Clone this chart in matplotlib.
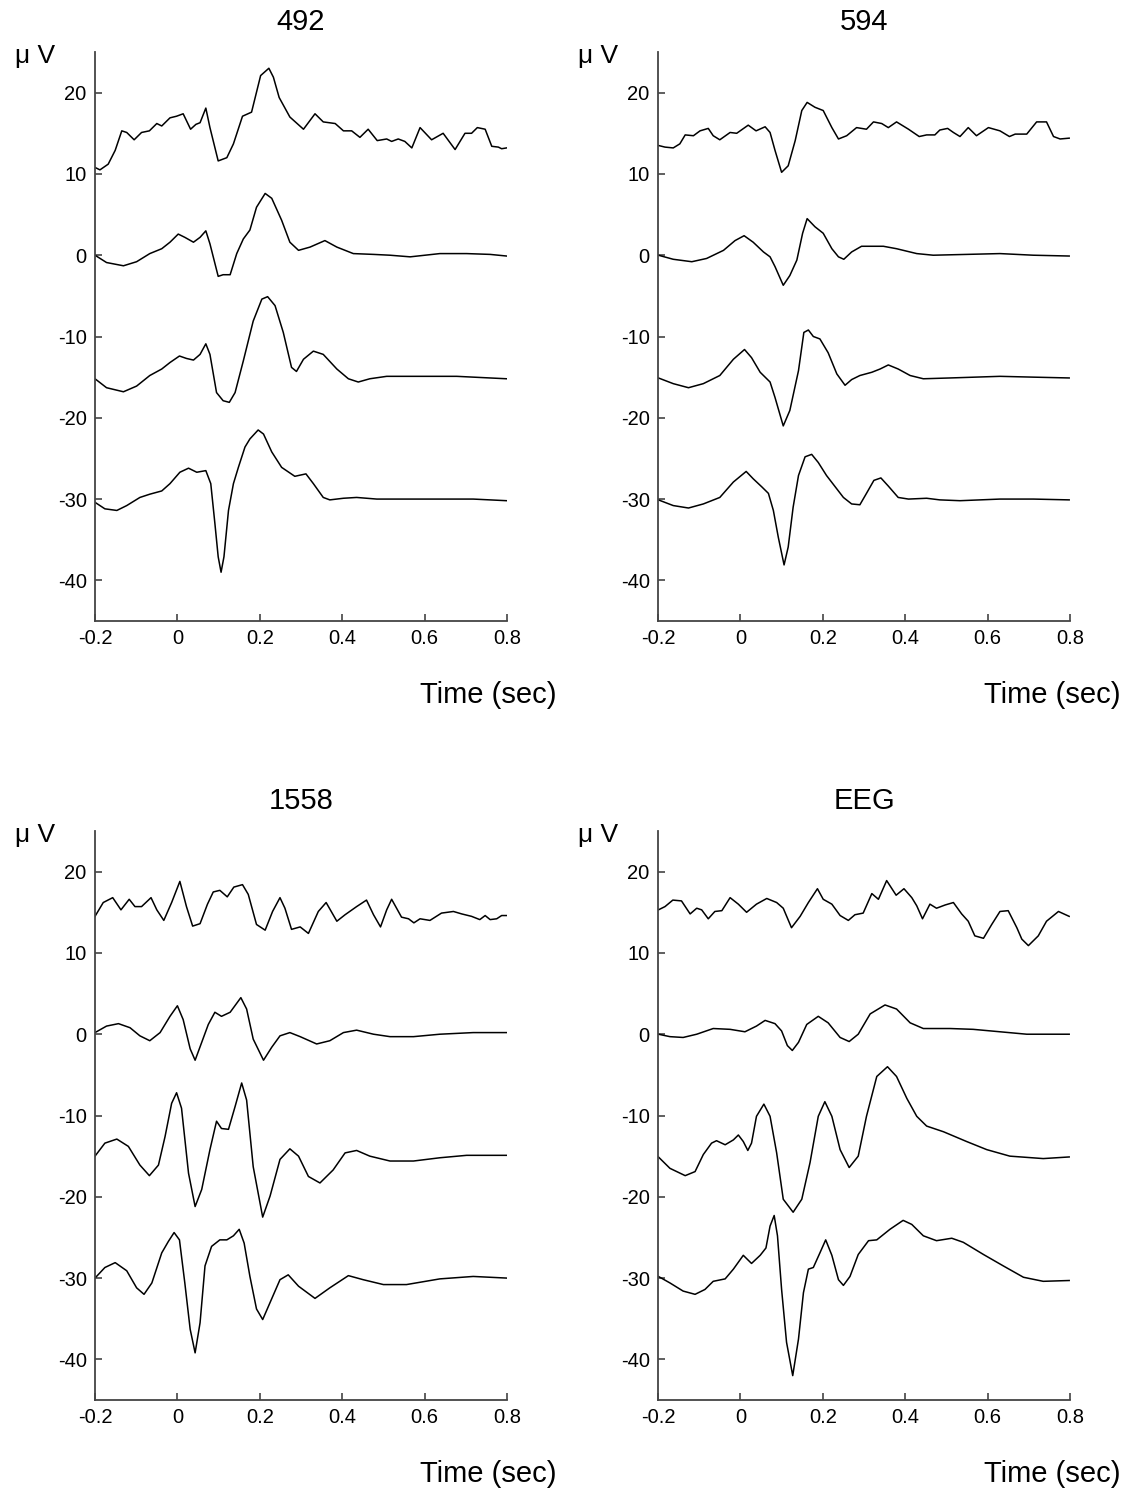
import matplotlib
matplotlib.use("Agg")
import matplotlib.pyplot as plt

plt.rcParams['font.family'] = ['Liberation Sans', 'DejaVu Sans']
plt.rcParams['axes.unicode_minus'] = False

# ---------------- panel 492 ----------------
t492_a = [-0.200, -0.188, -0.168, -0.151, -0.135, -0.123, -0.105, -0.087, -0.068, -0.050, -0.038, -0.018,
          -0.002, 0.014, 0.032, 0.045, 0.055, 0.069, 0.079, 0.099, 0.120, 0.136, 0.158, 0.180, 0.202,
          0.222, 0.233, 0.247, 0.273, 0.306, 0.334, 0.354, 0.383, 0.403, 0.423, 0.443, 0.463, 0.485,
          0.508, 0.520, 0.536, 0.552, 0.569, 0.589, 0.617, 0.645, 0.674, 0.698, 0.714, 0.728, 0.747,
          0.763, 0.779, 0.787, 0.799]
v492_a = [10.8, 10.5, 11.2, 12.9, 15.3, 15.1, 14.2, 15.1, 15.3, 16.2, 15.9, 16.9,
          17.1, 17.4, 15.5, 16.1, 16.3, 18.1, 15.7, 11.6, 12.0, 13.7, 17.1, 17.6, 22.1,
          23.0, 21.9, 19.4, 17.0, 15.5, 17.4, 16.4, 16.2, 15.3, 15.3, 14.5, 15.5, 14.1,
          14.3, 14.0, 14.3, 14.0, 13.2, 15.7, 14.2, 15.0, 13.0, 15.0, 15.0, 15.7, 15.5,
          13.4, 13.3, 13.1, 13.2]

t492_b = [-0.200, -0.172, -0.131, -0.099, -0.067, -0.038, -0.018, 0.002, 0.018, 0.039, 0.055, 0.069,
          0.079, 0.099, 0.111, 0.128, 0.144, 0.160, 0.176, 0.192, 0.213, 0.229, 0.253, 0.273, 0.294,
          0.322, 0.358, 0.387, 0.427, 0.476, 0.516, 0.565, 0.637, 0.702, 0.759, 0.799]
v492_b = [0.0, -0.9, -1.3, -0.8, 0.2, 0.8, 1.6, 2.6, 2.2, 1.6, 2.2, 3.0,
          1.4, -2.6, -2.4, -2.4, 0.2, 2.0, 3.1, 5.9, 7.6, 7.0, 4.3, 1.6, 0.6,
          1.0, 1.8, 1.0, 0.2, 0.1, 0.0, -0.2, 0.2, 0.2, 0.1, -0.1]

t492_c = [-0.200, -0.172, -0.131, -0.099, -0.067, -0.038, -0.018, 0.005, 0.022, 0.039, 0.055, 0.069,
          0.079, 0.095, 0.111, 0.126, 0.140, 0.160, 0.184, 0.205, 0.219, 0.237, 0.257, 0.277, 0.289,
          0.306, 0.330, 0.354, 0.387, 0.415, 0.439, 0.467, 0.508, 0.597, 0.678, 0.799]
v492_c = [-15.2, -16.3, -16.8, -16.1, -14.8, -14.0, -13.2, -12.4, -12.7, -12.9, -12.2, -10.9,
          -12.2, -16.9, -17.9, -18.1, -16.9, -13.0, -8.1, -5.4, -5.1, -6.2, -9.5, -13.8, -14.3,
          -12.8, -11.8, -12.2, -14.0, -15.2, -15.6, -15.2, -14.9, -14.9, -14.9, -15.2]

t492_d = [-0.200, -0.176, -0.147, -0.123, -0.091, -0.067, -0.038, -0.018, 0.006, 0.027, 0.047, 0.069,
          0.081, 0.091, 0.099, 0.106, 0.113, 0.124, 0.136, 0.148, 0.164, 0.176, 0.196, 0.209, 0.229,
          0.253, 0.285, 0.312, 0.330, 0.354, 0.370, 0.403, 0.435, 0.484, 0.597, 0.718, 0.799]
v492_d = [-30.4, -31.2, -31.4, -30.8, -29.8, -29.4, -29.0, -28.1, -26.7, -26.2, -26.7, -26.5,
          -28.1, -33.0, -37.1, -39.0, -37.1, -31.4, -28.1, -26.1, -23.6, -22.6, -21.5, -22.0, -24.2,
          -26.1, -27.2, -26.9, -28.1, -29.8, -30.1, -29.9, -29.8, -30.0, -30.0, -30.0, -30.2]

# ---------------- panel 594 ----------------
t594_a = [-0.199, -0.183, -0.163, -0.147, -0.134, -0.114, -0.098, -0.078, -0.066, -0.050, -0.025, -0.009,
          0.019, 0.038, 0.060, 0.072, 0.084, 0.100, 0.116, 0.133, 0.149, 0.162, 0.181, 0.201, 0.222,
          0.238, 0.258, 0.282, 0.306, 0.323, 0.343, 0.359, 0.379, 0.408, 0.434, 0.452, 0.472, 0.484,
          0.503, 0.517, 0.533, 0.553, 0.573, 0.602, 0.630, 0.653, 0.667, 0.695, 0.719, 0.743, 0.760,
          0.776, 0.798]
v594_a = [13.5, 13.3, 13.2, 13.7, 14.8, 14.7, 15.3, 15.6, 14.7, 14.2, 15.1, 15.0,
          16.0, 15.3, 15.8, 15.1, 12.9, 10.2, 11.0, 14.1, 17.8, 18.8, 18.2, 17.8, 15.7,
          14.3, 14.7, 15.7, 15.5, 16.4, 16.2, 15.7, 16.4, 15.5, 14.6, 14.8, 14.8, 15.4,
          15.6, 15.1, 14.6, 15.7, 14.7, 15.7, 15.3, 14.6, 14.9, 14.9, 16.4, 16.4, 14.6,
          14.3, 14.4]

t594_b = [-0.199, -0.163, -0.118, -0.082, -0.041, -0.013, 0.009, 0.031, 0.056, 0.072, 0.084, 0.104,
          0.120, 0.137, 0.151, 0.162, 0.181, 0.201, 0.222, 0.238, 0.251, 0.270, 0.294, 0.347, 0.379,
          0.428, 0.468, 0.549, 0.630, 0.711, 0.798]
v594_b = [0.0, -0.5, -0.8, -0.4, 0.6, 1.8, 2.4, 1.6, 0.4, -0.2, -1.4, -3.7,
          -2.5, -0.6, 2.7, 4.5, 3.5, 2.7, 0.8, -0.2, -0.5, 0.4, 1.1, 1.1, 0.8,
          0.2, 0.0, 0.1, 0.2, 0.0, -0.1]

t594_c = [-0.199, -0.163, -0.126, -0.090, -0.050, -0.017, 0.010, 0.027, 0.048, 0.072, 0.084, 0.104,
          0.120, 0.141, 0.154, 0.165, 0.177, 0.193, 0.213, 0.234, 0.254, 0.270, 0.290, 0.319, 0.339,
          0.359, 0.383, 0.412, 0.444, 0.509, 0.630, 0.711, 0.798]
v594_c = [-15.1, -15.8, -16.3, -15.8, -14.8, -12.8, -11.6, -12.6, -14.4, -15.6, -17.5, -21.0,
          -19.1, -14.2, -9.5, -9.2, -10.0, -10.3, -12.0, -14.6, -16.0, -15.3, -14.8, -14.4, -14.0,
          -13.5, -14.0, -14.8, -15.2, -15.1, -14.9, -15.0, -15.1]

t594_d = [-0.199, -0.163, -0.126, -0.090, -0.050, -0.017, 0.014, 0.031, 0.052, 0.068, 0.080, 0.092,
          0.106, 0.116, 0.128, 0.141, 0.157, 0.173, 0.189, 0.209, 0.250, 0.270, 0.290, 0.306, 0.324,
          0.341, 0.359, 0.383, 0.408, 0.452, 0.484, 0.533, 0.630, 0.711, 0.798]
v594_d = [-30.1, -30.8, -31.1, -30.6, -29.8, -27.9, -26.6, -27.5, -28.5, -29.3, -31.4, -34.7,
          -38.1, -35.9, -31.0, -27.1, -24.8, -24.5, -25.5, -27.1, -29.8, -30.6, -30.7, -29.3, -27.7,
          -27.4, -28.4, -29.8, -30.0, -29.9, -30.1, -30.2, -30.0, -30.0, -30.1]

# ---------------- panel 1558 ----------------
t1558_a = [-0.200, -0.180, -0.157, -0.137, -0.117, -0.103, -0.087, -0.064, -0.050, -0.033, -0.014, 0.006,
           0.022, 0.037, 0.055, 0.073, 0.087, 0.103, 0.121, 0.137, 0.158, 0.172, 0.192, 0.213, 0.231,
           0.249, 0.261, 0.277, 0.298, 0.318, 0.342, 0.361, 0.387, 0.407, 0.435, 0.459, 0.476, 0.493,
           0.508, 0.520, 0.544, 0.561, 0.574, 0.589, 0.613, 0.641, 0.670, 0.690, 0.714, 0.734, 0.747,
           0.759, 0.775, 0.787, 0.799]
v1558_a = [14.5, 16.2, 16.8, 15.3, 16.6, 15.7, 15.7, 16.8, 15.3, 14.0, 16.2, 18.8,
           15.7, 13.3, 13.6, 16.0, 17.5, 17.7, 16.9, 18.1, 18.4, 17.2, 13.5, 12.8, 15.1,
           16.8, 15.5, 12.9, 13.2, 12.4, 15.1, 16.2, 13.9, 14.7, 15.7, 16.5, 14.7, 13.2,
           15.3, 16.6, 14.4, 14.2, 13.7, 14.2, 14.0, 14.9, 15.1, 14.8, 14.5, 14.1, 14.6,
           14.1, 14.2, 14.6, 14.6]

t1558_b = [-0.200, -0.172, -0.143, -0.115, -0.091, -0.067, -0.042, -0.018, 0.000, 0.014, 0.031, 0.043,
           0.059, 0.075, 0.091, 0.107, 0.128, 0.154, 0.168, 0.184, 0.209, 0.229, 0.249, 0.273, 0.298,
           0.338, 0.370, 0.403, 0.435, 0.476, 0.516, 0.573, 0.637, 0.718, 0.799]
v1558_b = [0.2, 1.0, 1.3, 0.8, -0.2, -0.8, 0.2, 2.2, 3.5, 1.8, -1.8, -3.2,
           -1.0, 1.2, 2.7, 2.2, 2.7, 4.5, 3.1, -0.6, -3.2, -1.6, -0.2, 0.2, -0.3,
           -1.2, -0.8, 0.2, 0.5, 0.0, -0.3, -0.3, 0.0, 0.2, 0.2]

t1558_c = [-0.200, -0.176, -0.147, -0.119, -0.091, -0.068, -0.046, -0.030, -0.014, -0.002, 0.010, 0.027,
           0.043, 0.059, 0.079, 0.095, 0.107, 0.124, 0.140, 0.156, 0.168, 0.184, 0.207, 0.225, 0.249,
           0.273, 0.294, 0.318, 0.346, 0.378, 0.407, 0.435, 0.467, 0.516, 0.573, 0.637, 0.702, 0.799]
v1558_c = [-15.0, -13.4, -12.9, -13.8, -16.1, -17.4, -16.1, -12.6, -8.5, -7.2, -9.1, -17.1,
           -21.2, -19.1, -14.2, -10.7, -11.6, -11.7, -8.9, -6.0, -8.1, -16.3, -22.5, -19.9, -15.4,
           -14.1, -15.0, -17.5, -18.3, -16.7, -14.6, -14.3, -15.0, -15.6, -15.6, -15.2, -14.9, -14.9]

t1558_d = [-0.200, -0.176, -0.151, -0.123, -0.099, -0.081, -0.062, -0.038, -0.022, -0.008, 0.005, 0.018,
           0.031, 0.043, 0.055, 0.067, 0.083, 0.103, 0.120, 0.136, 0.150, 0.162, 0.176, 0.192, 0.207,
           0.225, 0.249, 0.269, 0.294, 0.334, 0.370, 0.415, 0.451, 0.500, 0.556, 0.637, 0.718, 0.799]
v1558_d = [-30.0, -28.7, -28.1, -29.1, -31.2, -32.0, -30.6, -26.9, -25.5, -24.4, -25.3, -30.6,
           -36.3, -39.2, -35.5, -28.5, -26.1, -25.3, -25.3, -24.8, -24.0, -25.7, -29.8, -33.8, -35.1,
           -33.0, -30.2, -29.6, -31.0, -32.5, -31.2, -29.7, -30.2, -30.8, -30.8, -30.1, -29.8, -30.0]

# ---------------- panel EEG ----------------
teeg_a = [-0.199, -0.183, -0.164, -0.143, -0.122, -0.106, -0.094, -0.078, -0.062, -0.045, -0.025, -0.005,
          0.015, 0.039, 0.064, 0.088, 0.104, 0.124, 0.145, 0.165, 0.187, 0.201, 0.222, 0.242, 0.262,
          0.278, 0.298, 0.319, 0.335, 0.355, 0.378, 0.397, 0.416, 0.428, 0.442, 0.460, 0.476, 0.497,
          0.517, 0.537, 0.553, 0.569, 0.590, 0.610, 0.630, 0.650, 0.671, 0.683, 0.699, 0.723, 0.743,
          0.772, 0.798]
veeg_a = [15.3, 15.7, 16.5, 16.4, 14.8, 15.5, 15.3, 14.2, 15.1, 15.2, 16.8, 16.0,
          15.0, 16.0, 16.7, 16.2, 15.5, 13.1, 14.5, 16.2, 17.9, 16.6, 16.0, 14.6, 14.0,
          14.7, 14.9, 17.3, 16.6, 18.9, 17.1, 17.9, 16.8, 15.8, 14.2, 16.0, 15.5, 15.9,
          16.2, 14.8, 13.9, 12.1, 11.8, 13.5, 15.1, 15.2, 13.1, 11.7, 10.9, 12.1, 13.9,
          15.1, 14.5]

teeg_b = [-0.199, -0.171, -0.139, -0.106, -0.066, -0.025, 0.011, 0.039, 0.060, 0.084, 0.100, 0.114,
          0.126, 0.141, 0.161, 0.189, 0.213, 0.242, 0.264, 0.286, 0.315, 0.351, 0.379, 0.412, 0.444,
          0.509, 0.565, 0.630, 0.695, 0.798]
veeg_b = [0.0, -0.3, -0.4, 0.0, 0.7, 0.6, 0.3, 1.0, 1.7, 1.3, 0.4, -1.4,
          -2.0, -1.0, 1.2, 2.2, 1.4, -0.4, -0.9, 0.0, 2.5, 3.6, 3.1, 1.4, 0.7,
          0.7, 0.6, 0.3, 0.0, 0.0]

teeg_c = [-0.199, -0.171, -0.134, -0.110, -0.090, -0.070, -0.058, -0.037, -0.017, -0.005, 0.007, 0.018,
          0.027, 0.039, 0.057, 0.072, 0.088, 0.104, 0.128, 0.149, 0.169, 0.189, 0.205, 0.222, 0.242,
          0.264, 0.286, 0.306, 0.331, 0.357, 0.379, 0.404, 0.428, 0.452, 0.493, 0.549, 0.598, 0.654,
          0.735, 0.798]
veeg_c = [-15.1, -16.5, -17.4, -16.9, -14.8, -13.4, -13.1, -13.6, -13.0, -12.4, -13.2, -14.3,
          -13.4, -10.1, -8.6, -10.1, -14.6, -20.3, -21.9, -20.3, -15.8, -10.1, -8.3, -10.1, -14.2,
          -16.4, -15.0, -10.1, -5.2, -4.0, -5.2, -7.9, -10.1, -11.3, -12.0, -13.2, -14.2, -15.0,
          -15.3, -15.1]

teeg_d = [-0.199, -0.171, -0.139, -0.110, -0.086, -0.066, -0.037, -0.017, 0.007, 0.027, 0.048, 0.062,
          0.072, 0.082, 0.090, 0.100, 0.112, 0.127, 0.141, 0.153, 0.165, 0.177, 0.193, 0.207, 0.222,
          0.238, 0.250, 0.266, 0.286, 0.311, 0.331, 0.363, 0.395, 0.416, 0.444, 0.476, 0.513, 0.541,
          0.590, 0.638, 0.687, 0.735, 0.798]
veeg_d = [-29.8, -30.6, -31.6, -32.0, -31.4, -30.4, -30.1, -28.9, -27.2, -28.2, -27.2, -26.3,
          -23.6, -22.3, -24.8, -31.4, -37.9, -42.0, -37.5, -31.8, -28.9, -28.7, -26.9, -25.3, -27.2,
          -30.2, -30.9, -29.8, -27.1, -25.4, -25.3, -24.0, -22.9, -23.4, -24.8, -25.4, -25.1, -25.6,
          -27.1, -28.5, -29.9, -30.4, -30.3]

titles = ["492", "594", "1558", "EEG"]
panels = [
    [(t492_a, v492_a), (t492_b, v492_b), (t492_c, v492_c), (t492_d, v492_d)],
    [(t594_a, v594_a), (t594_b, v594_b), (t594_c, v594_c), (t594_d, v594_d)],
    [(t1558_a, v1558_a), (t1558_b, v1558_b), (t1558_c, v1558_c), (t1558_d, v1558_d)],
    [(teeg_a, veeg_a), (teeg_b, veeg_b), (teeg_c, veeg_c), (teeg_d, veeg_d)],
]
xticks = [-0.2, 0, 0.2, 0.4, 0.6, 0.8]
xticklabels = ["-0.2", "0", "0.2", "0.4", "0.6", "0.8"]
yticks = [-40, -30, -20, -10, 0, 10, 20]

W, H = 1128, 1494
fig = plt.figure(figsize=(W / 100, H / 100), dpi=100)

# axes boxes in pixels: left, top of each panel
boxes = [(95, 52), (658, 52), (95, 831), (658, 831)]
aw, ah = 412, 569

for i in range(4):
    x0, y0 = boxes[i]
    ax = fig.add_axes([x0 / W, 1 - (y0 + ah) / H, aw / W, ah / H])
    for t, v in panels[i]:
        ax.plot(t, v, color='black', lw=1.1, solid_joinstyle='round')
    ax.set_xlim(-0.2, 0.8)
    ax.set_ylim(-45, 25)
    ax.set_xticks(xticks)
    ax.set_xticklabels(xticklabels)
    ax.set_yticks(yticks)
    for s in ['top', 'right']:
        ax.spines[s].set_visible(False)
    for s in ['left', 'bottom']:
        ax.spines[s].set_linewidth(1.3)
        ax.spines[s].set_color('#444444')
    ax.tick_params(direction='in', length=5, width=1.2, color='#444444',
                   labelsize=14.5, pad=6)
    ax.set_title(titles[i], fontsize=21, pad=16)
    # axis labels
    fig.text((x0 - 60) / W, 1 - (y0 + 4) / H, "\u03bc V", fontsize=19,
             ha='center', va='center')
    fig.text((x0 + aw + 50) / W, 1 - (y0 + ah + 74) / H, "Time (sec)", fontsize=21,
             ha='right', va='center')

fig.savefig("out.png", dpi=100)
